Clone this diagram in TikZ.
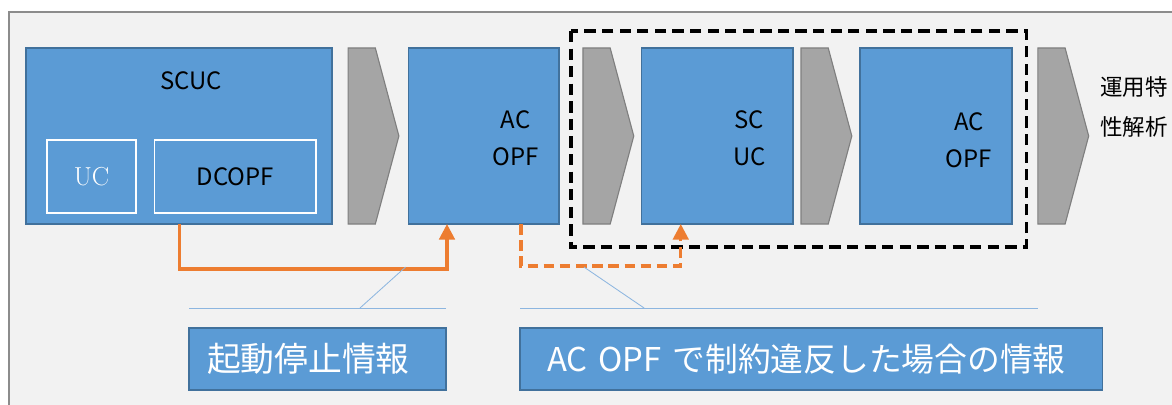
\documentclass[tikz,border=0pt]{standalone}
\usepackage{fontspec}
\newfontfamily\jpfont{Noto Sans CJK JP}
\usetikzlibrary{arrows.meta,positioning,shapes.symbols,calc}
\definecolor{BoxBlue}{HTML}{5B9BD5}
\definecolor{BoxEdge}{HTML}{41719C}
\definecolor{ChevGray}{HTML}{A5A5A5}
\definecolor{ChevEdge}{HTML}{7F7F7F}
\definecolor{InfoOrange}{HTML}{ED7D31}
\definecolor{CalloutBlue}{HTML}{8DB6E0}
\definecolor{PanelGray}{HTML}{F2F2F2}
\definecolor{PanelEdge}{HTML}{8C8C8C}

\begin{document}
\begin{tikzpicture}[
  x=0.025cm,y=-0.025cm,
  panel/.style={draw=PanelEdge,fill=PanelGray,line width=1.2pt},
  blkbox/.style={draw=BoxEdge,fill=BoxBlue,line width=1pt,minimum height=4.4cm,inner sep=0pt,outer sep=0pt},
  subbox/.style={draw=white,line width=1.2pt,minimum height=1.825cm,inner sep=0pt,outer sep=0pt},
  chev/.style={signal,signal to=east,signal pointer angle=150,draw=ChevEdge,fill=ChevGray,line width=0.8pt,minimum width=1.27cm,minimum height=4.4cm,inner sep=0pt,outer sep=0pt},
  lbl/.style={font=\jpfont\fontsize{17}{26}\selectfont,align=center,inner sep=0pt},
  infobox/.style={draw=BoxEdge,fill=BoxBlue,line width=1pt,minimum height=1.55cm,text=white,align=left,font=\jpfont\fontsize{24}{28}\selectfont,outer sep=0pt},
  infoarrow/.style={draw=InfoOrange,line width=2.2pt,-{Triangle[length=11pt,width=11pt]}},
  callout/.style={draw=CalloutBlue,line width=0.6pt},
  dashbox/.style={draw=black,line width=2.4pt,dash pattern=on 8pt off 4.5pt}
]
\useasboundingbox (0,0) rectangle (1172,405);
\clip (0,0) rectangle (1172,405);
\fill[white] (0,0) rectangle (1172,405);
\draw[panel] (9,12) rectangle (1200,430);

\node[blkbox,minimum width=7.65cm,anchor=north west] (scuc) at (26,48) {};
\node[lbl] (scuctxt) at ($(scuc.north)+(12,33)$) {SCUC};
\node[subbox,minimum width=2.225cm,anchor=north west,text=white,font=\fontsize{18.5}{20}\selectfont] (uc) at ($(scuc.north west)+(21,92)$) {UC};
\node[subbox,minimum width=4.035cm,right=0.465cm of uc,font=\jpfont\fontsize{17}{20}\selectfont] (dcopf) {DCOPF};

\node[chev,right=0.4cm of scuc] (chevA) {};
\node[blkbox,minimum width=3.76cm,right=0.24cm of chevA] (acopfA) {};
\node[lbl] (acopfAtxt) at ($(acopfA.center)+(32,2)$) {AC\\OPF};
\node[chev,right=0.6cm of acopfA] (chevB) {};
\node[blkbox,minimum width=3.78cm,right=0.2cm of chevB] (scucB) {};
\node[lbl] (scucBtxt) at ($(scucB.center)+(32,2)$) {SC\\UC};
\node[chev,right=0.2cm of scucB] (chevC) {};
\node[blkbox,minimum width=3.8cm,right=0.2cm of chevC] (acopfB) {};
\node[lbl] (acopfBtxt) at ($(acopfB.center)+(33,4)$) {AC\\OPF};
\node[chev,right=0.65cm of acopfB] (chevD) {};
\node[lbl,align=left,font=\jpfont\fontsize{16}{28.4}\selectfont,right=0.28cm of chevD,yshift=0.72cm] (evaltxt) {運用特\\性解析};

\draw[dashbox] ($(chevB.west |- acopfB.north)+(-12,-17)$) rectangle ($(acopfB.south east)+(14.6,23)$);

\node[infobox,text width=5.525cm,inner xsep=0.45cm,anchor=north west] (infoA) at (189,328) {起動停止情報};
\node[infobox,text width=13.2cm,inner xsep=0.675cm,right=1.85cm of infoA,font=\jpfont\fontsize{23.3}{28}\selectfont] (infoB) {AC OPF で制約違反した場合の情報};

\draw[infoarrow] ($(dcopf.west |- scuc.south)+(24.5,0)$) -- ++(0,45) -| ($(acopfA.south west)+(38.5,0)$);
\draw[infoarrow,dash pattern=on 7.5pt off 4pt] ($(acopfA.south west)+(112.5,0)$) -- ++(0,42) -| ($(scucB.south west)+(39,0)$);

\coordinate (tipA) at ($(acopfA.south west)+(-3,43)$);
\coordinate (tipB) at ($(acopfA.south east)+(25,43)$);
\draw[callout] ($(infoA.north west)+(0,-20)$) -- ($(infoA.north east)+(0,-20)$);
\draw[callout] ($(infoA.north west)+(171,-20)$) -- (tipA);
\draw[callout] ($(infoB.north west)+(0,-20)$) -- ($(infoB.north west)+(518,-20)$);
\draw[callout] ($(infoB.north west)+(124,-20)$) -- (tipB);
\end{tikzpicture}
\end{document}
